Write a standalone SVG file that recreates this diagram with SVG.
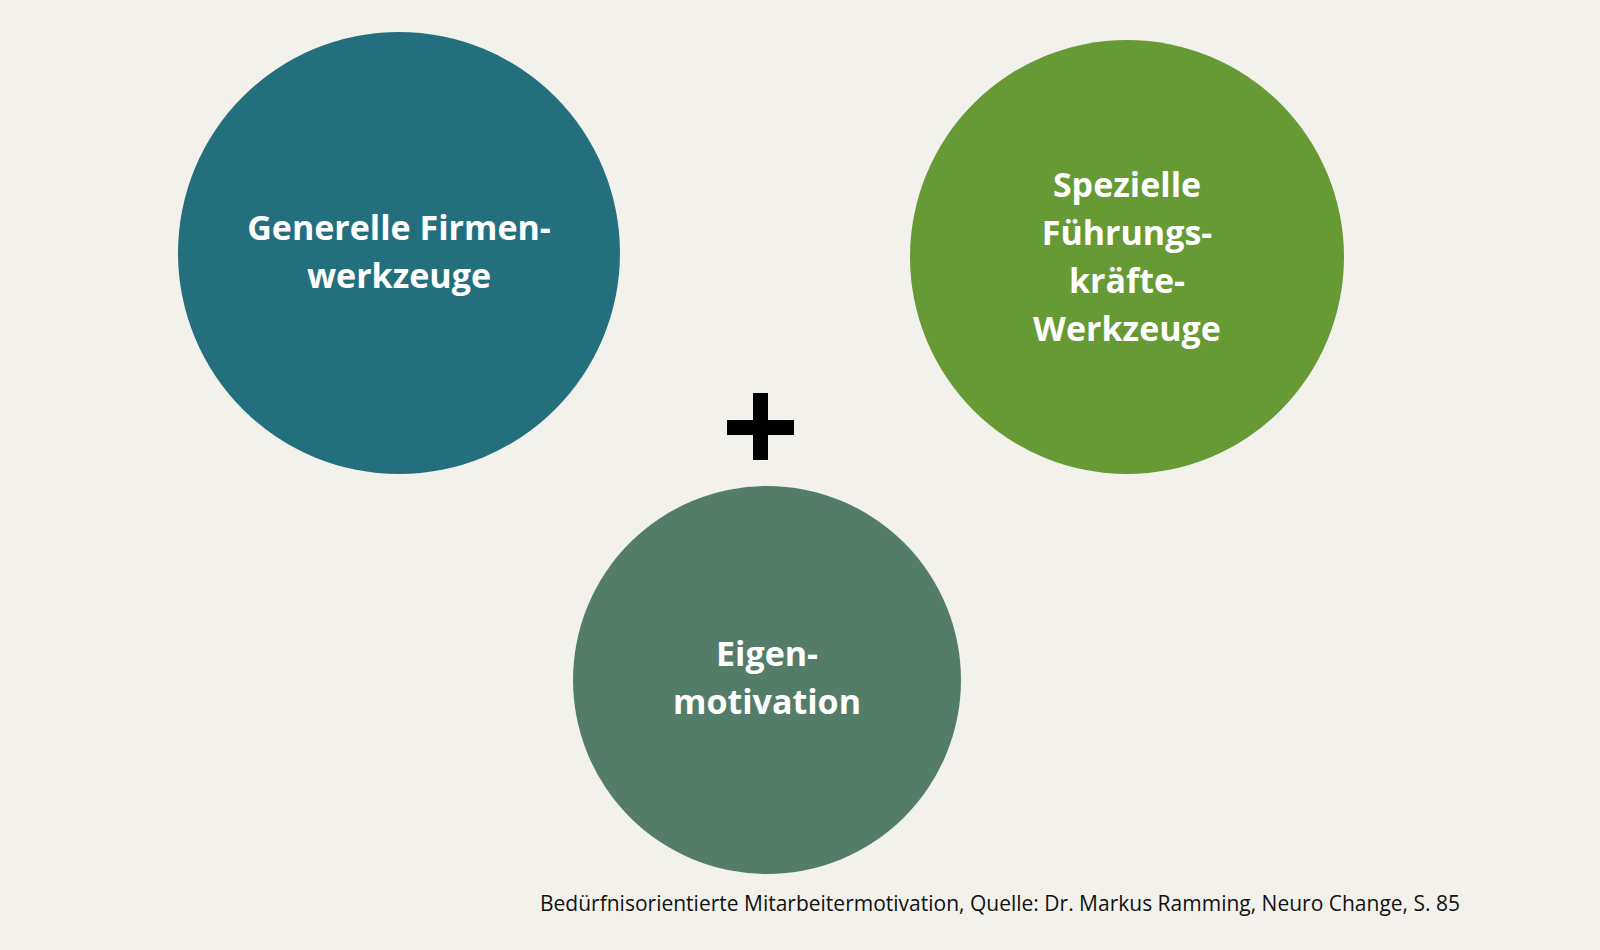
<svg xmlns="http://www.w3.org/2000/svg" width="1600" height="950" viewBox="0 0 1600 950">
<style>
.t{font-family:"Open Sans","Noto Sans",sans-serif;font-weight:700;font-size:34px;fill:#fff;text-anchor:middle}
.c{font-family:"Open Sans","Noto Sans",sans-serif;font-size:21px;fill:#111}
</style>
<rect width="1600" height="950" fill="#f2f1ec"/>
<g id="n1"><circle cx="399" cy="253" r="221" fill="#246f7e"/>
<text class="t" x="399" y="240">Generelle Firmen-</text><text class="t" x="399" y="288">werkzeuge</text></g>
<g id="n2"><circle cx="1127" cy="257" r="217" fill="#669a35"/>
<text class="t" x="1127" y="197">Spezielle</text><text class="t" x="1127" y="245">Führungs-</text><text class="t" x="1127" y="293">kräfte-</text><text class="t" x="1127" y="341">Werkzeuge</text></g>
<g id="n3"><circle cx="767" cy="680" r="194" fill="#547d69"/>
<text class="t" x="767" y="666">Eigen-</text><text class="t" x="767" y="714">motivation</text></g>
<g id="plus" fill="#000"><rect x="727" y="420" width="67" height="15"/><rect x="753" y="393" width="15" height="67"/></g>
<g id="connectors"></g>
<text class="c" x="540" y="911">Bedürfnisorientierte Mitarbeitermotivation, Quelle: Dr. Markus Ramming, Neuro Change, S. 85</text>
</svg>
